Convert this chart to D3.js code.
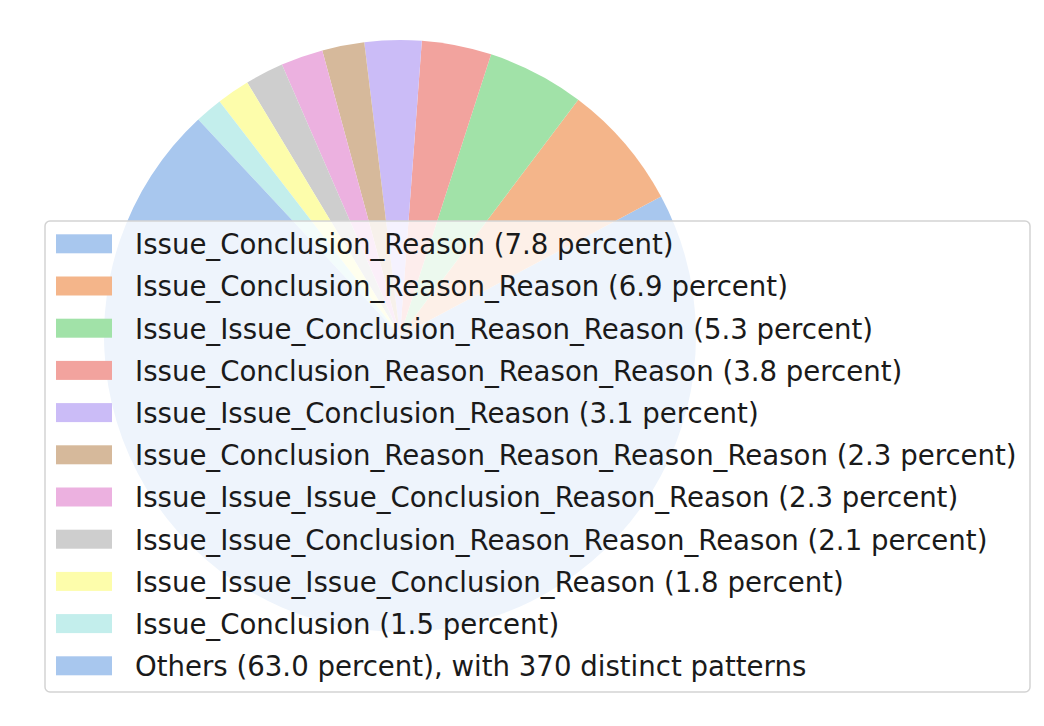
<!DOCTYPE html>
<html><head>
<meta charset="utf-8">
<script src="https://cdnjs.cloudflare.com/ajax/libs/d3/7.8.5/d3.min.js"></script>
<style>
  body { margin: 0; background: #fff; }
  .legend-text { font-family: "DejaVu Sans", sans-serif; font-size: 27.6px; fill: #1a1a1a; }
</style>
</head>
<body>
<script>
// pattern names and their share, in plotting order
var patterns = [
  "Issue_Conclusion_Reason",
  "Issue_Conclusion_Reason_Reason",
  "Issue_Issue_Conclusion_Reason_Reason",
  "Issue_Conclusion_Reason_Reason_Reason",
  "Issue_Issue_Conclusion_Reason",
  "Issue_Conclusion_Reason_Reason_Reason_Reason",
  "Issue_Issue_Issue_Conclusion_Reason_Reason",
  "Issue_Issue_Conclusion_Reason_Reason_Reason",
  "Issue_Issue_Issue_Conclusion_Reason",
  "Issue_Conclusion"
];
var percents = [7.8, 6.9, 5.3, 3.8, 3.1, 2.3, 2.3, 2.1, 1.8, 1.5];
var othersPercent = 63.0;
var othersCount = 370;

// seaborn "pastel" as it looks in the picture
var colors = ["#a8c7ee", "#f4b58a", "#a1e2a8", "#f2a39e", "#cbbcf7",
              "#d6b99b", "#ecb1e0", "#cecece", "#fdfdab", "#c3eeec"];

var slices = patterns.map(function(p, i) {
  return { label: p + " (" + percents[i].toFixed(1) + " percent)", value: percents[i], color: colors[i] };
});
slices.push({
  label: "Others (" + othersPercent.toFixed(1) + " percent), with " + othersCount + " distinct patterns",
  value: othersPercent,
  color: colors[0]
});

var width = 1044, height = 726;
var cx = 400, cy = 336, radius = 296;

var svg = d3.select("body").append("svg")
    .attr("width", width)
    .attr("height", height);

// matplotlib starts at 3 o'clock and goes counter-clockwise
var pie = d3.pie()
    .sort(null)
    .value(function(d) { return d.value; })
    .startAngle(Math.PI / 2)
    .endAngle(Math.PI / 2 - 2 * Math.PI);

var arc = d3.arc().innerRadius(0).outerRadius(radius);

svg.append("g")
    .attr("transform", "translate(" + cx + "," + cy + ")")
  .selectAll("path")
    .data(pie(slices))
  .enter().append("path")
    .attr("d", arc)
    .attr("fill", function(d) { return d.data.color; });

// legend, drawn over the pie like matplotlib does (framealpha 0.8)
var lg = { x: 45, y: 221, w: 985, h: 471, row0: 244.3, step: 42.2 };

var legend = svg.append("g");
legend.append("rect")
    .attr("x", lg.x).attr("y", lg.y)
    .attr("width", lg.w).attr("height", lg.h)
    .attr("rx", 5).attr("ry", 5)
    .attr("fill", "#fff").attr("fill-opacity", 0.8)
    .attr("stroke", "#d3d3d3").attr("stroke-width", 1.5);

var rows = legend.selectAll("g.row")
    .data(slices)
  .enter().append("g")
    .attr("class", "row")
    .attr("transform", function(d, i) { return "translate(0," + (lg.row0 + i * lg.step) + ")"; });

rows.append("rect")
    .attr("x", 56).attr("y", -10)
    .attr("width", 56).attr("height", 19)
    .attr("fill", function(d) { return d.color; });

rows.append("text")
    .attr("class", "legend-text")
    .attr("x", 135).attr("y", 9.8)
    .text(function(d) { return d.label; });
</script>
</body></html>
